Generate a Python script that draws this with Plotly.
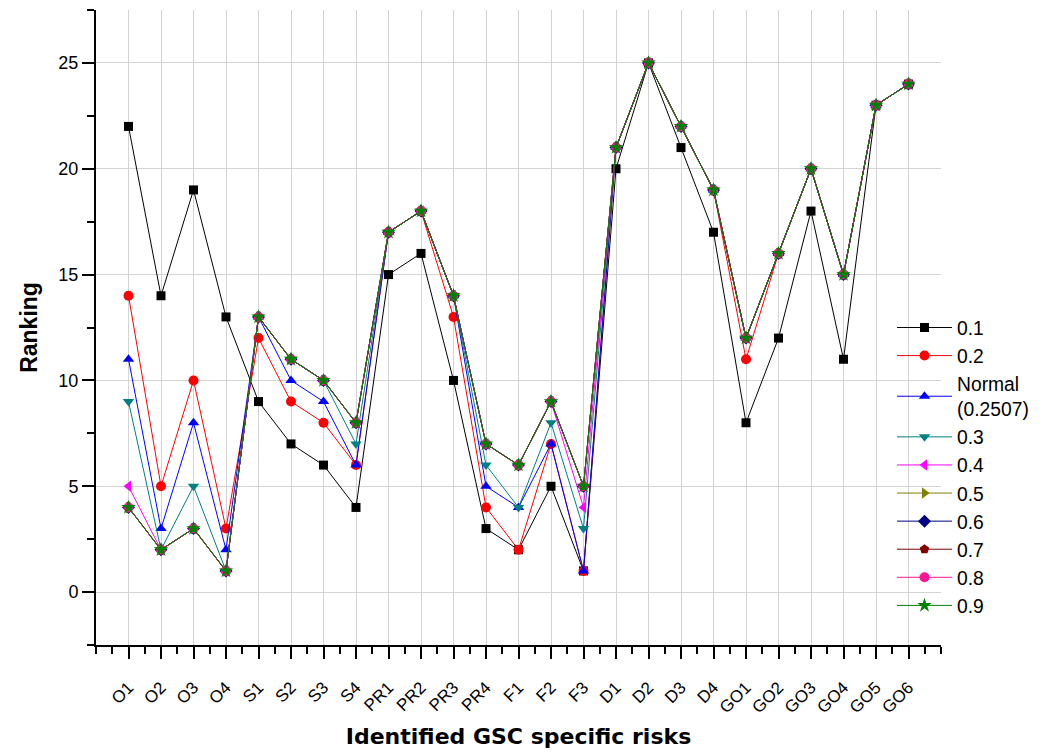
import plotly.graph_objects as go

categories = ["O1", "O2", "O3", "O4", "S1", "S2", "S3", "S4", "PR1", "PR2", "PR3", "PR4",
              "F1", "F2", "F3", "D1", "D2", "D3", "D4", "GO1", "GO2", "GO3", "GO4", "GO5", "GO6"]

s01 = [22, 14, 19, 13, 9, 7, 6, 4, 15, 16, 10, 3, 2, 5, 1, 20, 25, 21, 17, 8, 12, 18, 11, 23, 24]
s02 = [14, 5, 10, 3, 12, 9, 8, 6, 17, 18, 13, 4, 2, 7, 1, 21, 25, 22, 19, 11, 16, 20, 15, 23, 24]
s_normal = [11, 3, 8, 2, 13, 10, 9, 6, 17, 18, 14, 5, 4, 7, 1, 21, 25, 22, 19, 12, 16, 20, 15, 23, 24]
s03 = [9, 2, 5, 1, 13, 11, 10, 7, 17, 18, 14, 6, 4, 8, 3, 21, 25, 22, 19, 12, 16, 20, 15, 23, 24]
s04 = [5, 2, 3, 1, 13, 11, 10, 8, 17, 18, 14, 7, 6, 9, 4, 21, 25, 22, 19, 12, 16, 20, 15, 23, 24]
s05 = [4, 2, 3, 1, 13, 11, 10, 8, 17, 18, 14, 7, 6, 9, 5, 21, 25, 22, 19, 12, 16, 20, 15, 23, 24]
s06 = [4, 2, 3, 1, 13, 11, 10, 8, 17, 18, 14, 7, 6, 9, 5, 21, 25, 22, 19, 12, 16, 20, 15, 23, 24]
s07 = [4, 2, 3, 1, 13, 11, 10, 8, 17, 18, 14, 7, 6, 9, 5, 21, 25, 22, 19, 12, 16, 20, 15, 23, 24]
s08 = [4, 2, 3, 1, 13, 11, 10, 8, 17, 18, 14, 7, 6, 9, 5, 21, 25, 22, 19, 12, 16, 20, 15, 23, 24]
s09 = [4, 2, 3, 1, 13, 11, 10, 8, 17, 18, 14, 7, 6, 9, 5, 21, 25, 22, 19, 12, 16, 20, 15, 23, 24]

series_names = ["0.1", "0.2", "Normal<br>(0.2507)", "0.3", "0.4", "0.5", "0.6", "0.7", "0.8", "0.9"]
series_values = [s01, s02, s_normal, s03, s04, s05, s06, s07, s08, s09]
colors = ["#000000", "#FF0000", "#0000FF", "#008080", "#FF00FF", "#808000", "#000080", "#800000", "#FF1493", "#008000"]
symbols = ["square", "circle", "triangle-up", "triangle-down", "triangle-left", "triangle-right",
           "diamond", "pentagon", "circle", "star"]
sizes = [9, 10, 10, 10, 10, 10, 10, 10, 10, 11]

x_pos = list(range(1, len(categories) + 1))

fig = go.Figure()
for name, vals, c, sym, sz in zip(series_names, series_values, colors, symbols, sizes):
    fig.add_trace(go.Scatter(
        x=x_pos, y=vals, name=name, mode="lines+markers",
        line=dict(color=c, width=1),
        marker=dict(symbol=sym, color=c, size=sz, line=dict(width=0)),
    ))

fig.update_layout(
    width=1053, height=753,
    margin=dict(l=96, r=112, t=10, b=108),
    plot_bgcolor="white", paper_bgcolor="white",
    font=dict(family="Liberation Sans, Arial, sans-serif", size=16, color="black"),
    legend=dict(
        x=0.942, y=0.53, xanchor="left", yanchor="top",
        bgcolor="rgba(0,0,0,0)", borderwidth=0,
        font=dict(family="Liberation Sans, Arial, sans-serif", size=19.3, color="black"),
        tracegroupgap=0, itemwidth=55,
    ),
    xaxis=dict(
        range=[0, 26], tickmode="array", tickvals=x_pos, ticktext=categories,
        tickangle=-45, showgrid=True, gridcolor="#D3D3D3", gridwidth=1,
        showline=True, linecolor="black", linewidth=2,
        ticks="outside", ticklen=12, tickwidth=2, tickcolor="black",
        minor=dict(tick0=0, dtick=0.5, ticks="outside", ticklen=7, tickwidth=2, tickcolor="black", showgrid=False),
        zeroline=False, ticklabelstandoff=12, automargin=False,
        tickfont=dict(size=17),
        title=dict(text="<b>Identified GSC specific risks</b>",
                   font=dict(family="DejaVu Sans, Verdana, sans-serif", size=22), standoff=12),
    ),
    yaxis=dict(
        range=[-2.5, 27.5], tickmode="linear", tick0=0, dtick=5,
        showgrid=True, gridcolor="#D3D3D3", gridwidth=1,
        showline=True, linecolor="black", linewidth=2,
        ticks="outside", ticklen=12, tickwidth=2, tickcolor="black",
        minor=dict(tick0=0, dtick=2.5, ticks="outside", ticklen=7, tickwidth=2, tickcolor="black", showgrid=False),
        zeroline=False, automargin=False,
        tickfont=dict(size=18),
        title=dict(text="<b>Ranking</b>",
                   font=dict(family="Liberation Sans, Arial, sans-serif", size=23), standoff=14),
    ),
)

fig.write_html("out.html")
